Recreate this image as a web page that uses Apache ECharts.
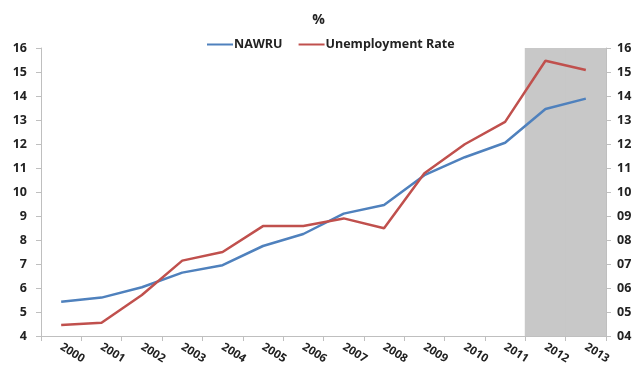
<!DOCTYPE html>
<html>
<head>
<meta charset="utf-8">
<script src="https://cdn.jsdelivr.net/npm/echarts@6/dist/echarts.min.js"></script>
<style>
  html, body { margin: 0; padding: 0; background: #fff; }
  #chart { width: 637px; height: 372px; }
</style>
</head>
<body>
<div id="chart"></div>
<script>
// Years on the category axis
const years = ['2000','2001','2002','2003','2004','2005','2006','2007','2008','2009','2010','2011','2012','2013'];
// Non-accelerating wage rate of unemployment (%)
const nawru = [5.43, 5.6, 6.03, 6.64, 6.95, 7.75, 8.25, 9.1, 9.46, 10.7, 11.45, 12.05, 13.46, 13.89];
// Actual unemployment rate (%)
const unemployment = [4.46, 4.55, 5.71, 7.14, 7.5, 8.58, 8.58, 8.9, 8.49, 10.78, 11.99, 12.92, 15.47, 15.08];
// Forecast years shaded to the top of the value axis
const shadeTop = [null, null, null, null, null, null, null, null, null, null, null, null, 16, 16];

const chart = echarts.init(document.getElementById('chart'));
const font = '"Open Sans", Lato, sans-serif';
const axisGray = '#bfbfbf';
const shade = '#c8c8c8';

// Full-band rectangles for the shaded years (slightly overlapped so neighbours join seamlessly)
function renderShade(params, api) {
  const top = api.value(1);
  if (top == null || isNaN(top)) return;
  const p1 = api.coord([api.value(0), top]);
  const p0 = api.coord([api.value(0), 4]);
  const w = api.size([1, 0])[0];
  const cs = params.coordSys;
  const rect = echarts.graphic.clipRectByRect(
    { x: p1[0] - w / 2 - 0.5, y: p1[1], width: w + 1, height: p0[1] - p1[1] },
    { x: cs.x, y: cs.y, width: cs.width, height: cs.height }
  );
  return rect && { type: 'rect', shape: rect, style: { fill: shade } };
}

chart.setOption({
  animation: false,
  title: {
    text: '%',
    left: 'center',
    top: 8,
    textStyle: { fontFamily: font, fontSize: 14, fontWeight: 'bold', color: '#222' }
  },
  legend: {
    data: ['NAWRU', 'Unemployment Rate'],
    top: 33,
    left: 202,
    itemWidth: 26,
    itemHeight: 2,
    itemGap: 16,
    icon: 'rect',
    textStyle: { fontFamily: font, fontSize: 12.5, fontWeight: 'bold', color: '#222', padding: [0, 0, 0, -4] }
  },
  grid: { left: 41, right: 31, top: 48, bottom: 36 },
  xAxis: {
    type: 'category',
    data: years,
    boundaryGap: true,
    axisLine: { lineStyle: { color: axisGray } },
    axisTick: { show: true, length: 5, lineStyle: { color: axisGray } },
    axisLabel: {
      rotate: -32,
      interval: 0,
      margin: 10,
      fontFamily: font, fontSize: 11.5, fontWeight: 'bold', color: '#222'
    },
    splitLine: { show: false }
  },
  yAxis: [
    {
      type: 'value', min: 4, max: 16, interval: 1,
      axisLine: { show: true, lineStyle: { color: axisGray } },
      axisTick: { show: true, length: 5, lineStyle: { color: axisGray } },
      axisLabel: { margin: 14, fontFamily: font, fontSize: 12.5, fontWeight: 'bold', color: '#222' },
      splitLine: { show: false }
    },
    {
      type: 'value', min: 4, max: 16, interval: 1, position: 'right',
      axisLine: { show: true, lineStyle: { color: axisGray } },
      axisTick: { show: true, length: 5, lineStyle: { color: axisGray } },
      axisLabel: {
        margin: 11, fontFamily: font, fontSize: 12.5, fontWeight: 'bold', color: '#222',
        formatter: v => String(v).padStart(2, '0')
      },
      splitLine: { show: false }
    }
  ],
  series: [
    {
      name: 'Forecast',
      type: 'custom',
      renderItem: renderShade,
      data: years.map((y, i) => [y, shadeTop[i]]),
      encode: { x: 0, y: 1 },
      silent: true,
      z: 1
    },
    {
      name: 'NAWRU',
      type: 'line',
      data: nawru,
      showSymbol: false,
      symbol: 'none',
      z: 3,
      lineStyle: { color: '#4f81bd', width: 2.5 },
      itemStyle: { color: '#4f81bd' }
    },
    {
      name: 'Unemployment Rate',
      type: 'line',
      data: unemployment,
      showSymbol: false,
      symbol: 'none',
      z: 4,
      lineStyle: { color: '#c0504d', width: 2.5 },
      itemStyle: { color: '#c0504d' }
    }
  ]
});
</script>
</body>
</html>
